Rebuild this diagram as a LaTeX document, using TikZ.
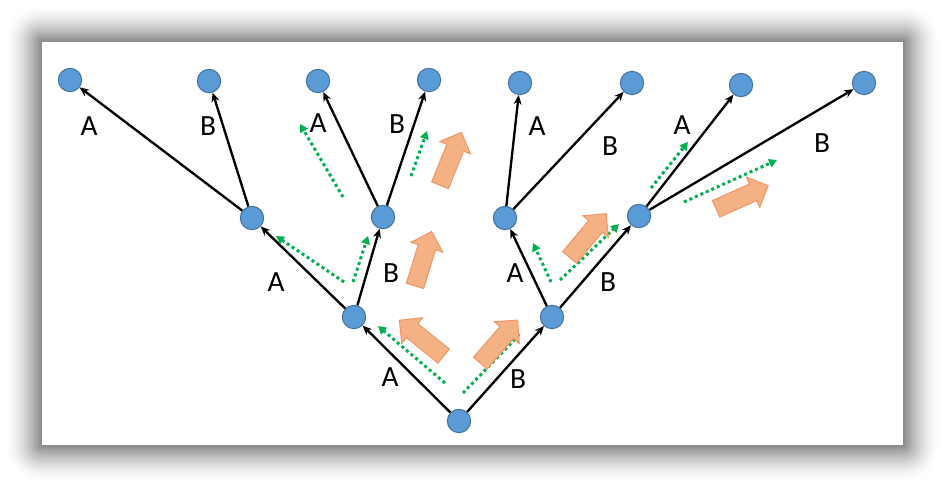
\documentclass[tikz,border=0pt]{standalone}
\usepackage{fontspec}
\setmainfont{Carlito}
\usetikzlibrary{arrows.meta,shapes.arrows}

\definecolor{nodeblue}{RGB}{91,155,213}
\definecolor{nodeline}{RGB}{65,113,156}
\definecolor{flowgreen}{RGB}{0,176,80}
\definecolor{pushfill}{RGB}{244,177,131}
\definecolor{pushline}{RGB}{240,150,100}

\tikzset{every picture/.style={line width=0.75pt}}
\tikzset{
  state/.style={circle,fill=nodeblue,draw=nodeline,minimum size=17.5pt,inner sep=0pt},
  edge/.style={line width=1.75pt,-{Stealth[length=7pt,width=6pt]}},
  lbl/.style={font=\fontsize{22}{26}\selectfont,inner sep=0pt},
  flow/.style={flowgreen,line width=2.25pt,dash pattern=on 2.25pt off 2.25pt,-{Triangle[length=6pt,width=6.5pt]}},
  push/.style={single arrow,fill=pushfill,draw=pushline,line width=0.75pt,minimum height=42.75pt,minimum width=24pt,
    single arrow head extend=5.6pt,single arrow tip angle=90,inner xsep=0pt,inner ysep=6.4pt}
}

\begin{document}
\begin{tikzpicture}[x=0.75pt,y=0.75pt,yscale=-1,xscale=1]
\useasboundingbox (0,0) rectangle (944,487);

%Shape: Shadow (outer ring first, darker towards the panel)
\foreach \i in {24,...,1}{
  \pgfmathsetmacro\shade{48*(1-\i/25)^1.6}
  \fill[black!\shade,rounded corners=1.1*\i] ({42-1.5*\i},{42-1.5*\i}) rectangle ({903+1.5*\i},{445+1.5*\i});
}
%Shape: Rectangle
\fill[white] (42,42) rectangle (903,445);

% States
\node[state] (root) at (459,421) {};
\node[state] (p1) at (354,317) {};
\node[state] (p2) at (552,317) {};
\node[state] (m1) at (252,218) {};
\node[state] (m2) at (383,217) {};
\node[state] (m3) at (505,218) {};
\node[state] (m4) at (639,216) {};
\node[state] (t1) at (70,80) {};
\node[state] (t2) at (209,81) {};
\node[state] (t3) at (318,81) {};
\node[state] (t4) at (429,80) {};
\node[state] (t5) at (520,83) {};
\node[state] (t6) at (632,83) {};
\node[state] (t7) at (741,85) {};
\node[state] (t8) at (864,83) {};

% Edges
\draw[edge] (root) -- (p1);
\draw[edge] (root) -- (p2);
\draw[edge] (p1) -- (m1);
\draw[edge] (p1) -- (m2);
\draw[edge] (p2) -- (m3);
\draw[edge] (p2) -- (m4);
\draw[edge] (m1) -- (t1);
\draw[edge] (m1) -- (t2);
\draw[edge] (m2) -- (t3);
\draw[edge] (m2) -- (t4);
\draw[edge] (m3) -- (t5);
\draw[edge] (m3) -- (t6);
\draw[edge] (m4) -- (t7);
\draw[edge] (m4) -- (t8);

% Text Node
\node[lbl] (la1) at (390,377) {A};
\node[lbl] (lb1) at (518,379) {B};
\node[lbl] (la2) at (276,282) {A};
\node[lbl] (lb2) at (391,273) {B};
\node[lbl] (la3) at (515,273) {A};
\node[lbl] (lb3) at (608,282) {B};
\node[lbl] (la4) at (89,126) {A};
\node[lbl] (lb4) at (208,126) {B};
\node[lbl] (la5) at (318,123) {A};
\node[lbl] (lb5) at (397,124) {B};
\node[lbl] (la6) at (537,126) {A};
\node[lbl] (lb6) at (610,146) {B};
\node[lbl] (la7) at (682,125) {A};
\node[lbl] (lb7) at (822,143) {B};

% Flow arrows
\coordinate (f1s) at (445,383); \coordinate (f1e) at (378,326);
\coordinate (f2s) at (463,393); \coordinate (f2e) at (520,334);
\coordinate (f3s) at (344,282); \coordinate (f3e) at (276,236);
\coordinate (f4s) at (353,282); \coordinate (f4e) at (368,236);
\coordinate (f5s) at (551,282); \coordinate (f5e) at (533,243);
\coordinate (f6s) at (560,280); \coordinate (f6e) at (619,224);
\coordinate (f7s) at (343,197); \coordinate (f7e) at (300,124);
\coordinate (f8s) at (411,176); \coordinate (f8e) at (427,131);
\coordinate (f9s) at (651,188); \coordinate (f9e) at (688,142);
\coordinate (f10s) at (684,202); \coordinate (f10e) at (777,160);
\draw[flow] (f1s) -- (f1e);
\draw[flow] (f2s) -- (f2e);
\draw[flow] (f3s) -- (f3e);
\draw[flow] (f4s) -- (f4e);
\draw[flow] (f5s) -- (f5e);
\draw[flow] (f6s) -- (f6e);
\draw[flow] (f7s) -- (f7e);
\draw[flow] (f8s) -- (f8e);
\draw[flow] (f9s) -- (f9e);
\draw[flow] (f10s) -- (f10e);

%Shape: Block Arrows
\node[push,rotate=141] (o1) at (425,341) {};
\node[push,rotate=49] (o2) at (496,345) {};
\node[push,rotate=73] (o3) at (422,263) {};
\node[push,rotate=50] (o4) at (585,239) {};
\node[push,rotate=68] (o5) at (449,163) {};
\node[push,rotate=24] (o6) at (738,199) {};

\end{tikzpicture}
\end{document}
